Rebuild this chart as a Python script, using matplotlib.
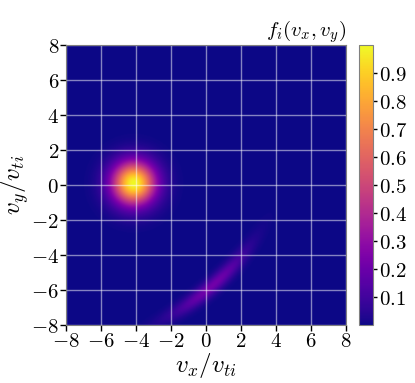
import numpy as np
import matplotlib
matplotlib.use('Agg')
import matplotlib.pyplot as plt

plt.rcParams['mathtext.fontset'] = 'cm'
plt.rcParams['font.family'] = 'serif'
plt.rcParams['font.serif'] = ['DejaVu Serif']

# velocity grid limits and ticks (in units of v_ti)
v_lim = [-8, 8]
tick_vals = [-8, -6, -4, -2, 0, 2, 4, 6, 8]
cbar_ticks = [0.1, 0.2, 0.3, 0.4, 0.5, 0.6, 0.7, 0.8, 0.9]

# core maxwellian
core_center = [-4.15, 0.1]
core_sigma = 0.85
core_peak = 1.0

# faint ring-beam arc
arc_center = [-9.6, 5.6]
arc_radius = 15.1
arc_angle_deg = -49.0
arc_len_sigma = 1.9
arc_width = 0.28
arc_peak = 0.22

n = 400
vx = np.linspace(v_lim[0], v_lim[1], n)
vy = np.linspace(v_lim[0], v_lim[1], n)
VX, VY = np.meshgrid(vx, vy)

r2 = (VX - core_center[0])**2 + (VY - core_center[1])**2
f = core_peak * np.exp(-r2 / (2 * core_sigma**2))

dx = VX - arc_center[0]
dy = VY - arc_center[1]
rr = np.hypot(dx, dy)
th = np.arctan2(dy, dx)
s = (th - np.deg2rad(arc_angle_deg)) * arc_radius
f += arc_peak * np.exp(-(rr - arc_radius)**2 / (2 * arc_width**2)) \
    * np.exp(-s**2 / (2 * arc_len_sigma**2))

fig = plt.figure(figsize=(4.15, 3.83), dpi=100)
ax = fig.add_axes([0.159, 0.151, 0.675, 0.731])
cax = fig.add_axes([0.864, 0.151, 0.035, 0.731])

im = ax.imshow(f, extent=[v_lim[0], v_lim[1], v_lim[0], v_lim[1]],
               origin='lower', cmap='plasma', vmin=0.0, vmax=1.0,
               interpolation='bilinear', aspect='auto')

ax.set_xticks(tick_vals)
ax.set_yticks(tick_vals)
ax.set_xticklabels([f'${v}$' for v in tick_vals], fontsize=15)
ax.set_yticklabels([f'${v}$' for v in tick_vals], fontsize=15)
ax.tick_params(direction='out', length=4, width=1, pad=1)
ax.grid(True, color='white', alpha=0.5, linewidth=1)
for sp in ax.spines.values():
    sp.set_color('#808080')

ax.set_xlabel(r'$v_x/v_{ti}$', fontsize=18, labelpad=0)
ax.set_ylabel(r'$v_y/v_{ti}$', fontsize=18, labelpad=0)
ax.set_title(r'$f_i(v_x,v_y)$', loc='right', fontsize=15, pad=1)

cb = fig.colorbar(im, cax=cax, ticks=cbar_ticks)
cb.ax.set_yticklabels([f'${t}$' for t in cbar_ticks], fontsize=15)
cb.ax.tick_params(length=3, width=1, pad=1)
cb.outline.set_edgecolor('#808080')

fig.savefig('out.png', dpi=100)
